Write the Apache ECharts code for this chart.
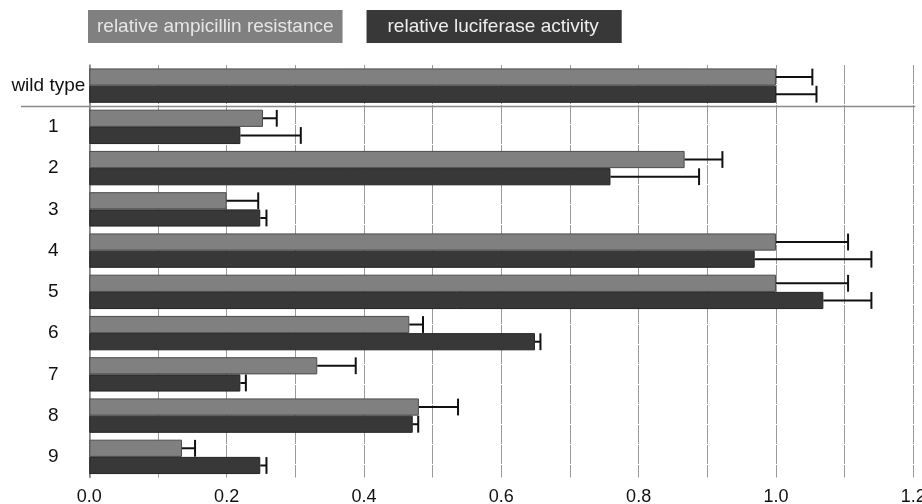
<!DOCTYPE html>
<html>
<head>
<meta charset="utf-8">
<script src="https://cdn.jsdelivr.net/npm/echarts@6/dist/echarts.min.js"></script>
<style>
  html, body { margin: 0; padding: 0; background: #ffffff; }
  #chart { width: 922px; height: 504px; }
</style>
</head>
<body>
<div id="chart"></div>
<script>
// Constructs, top to bottom
const categories = ['wild type', '1', '2', '3', '4', '5', '6', '7', '8', '9'];

// Relative ampicillin resistance and its (upper) error
const ampicillin    = [1.000, 0.253, 0.867, 0.200, 1.000, 1.000, 0.466, 0.332, 0.480, 0.135];
const ampicillinErr = [0.053, 0.020, 0.055, 0.046, 0.105, 0.105, 0.020, 0.056, 0.057, 0.019];

// Relative luciferase activity and its (upper) error
const luciferase    = [1.000, 0.220, 0.759, 0.249, 0.969, 1.069, 0.649, 0.220, 0.471, 0.249];
const luciferaseErr = [0.059, 0.088, 0.129, 0.009, 0.170, 0.070, 0.008, 0.008, 0.008, 0.009];

// Value axis tick labels
const tickLabels = ['0.0', '0.2', '0.4', '0.6', '0.8', '1.0', '1.2'];

const FONT = '"Liberation Sans", Arial, sans-serif';
const BAR_W = 17.2;
const GRAY = '#808080';
const DARK = '#383838';

const chart = echarts.init(document.getElementById('chart'), null, { renderer: 'canvas' });

// One-sided (upper) error bars, drawn through the axes
function errorSeries(name, values, errors, side) {
  return {
    type: 'custom',
    name: name + ' error',
    z: 5,
    silent: true,
    data: values.map((v, i) => [v, i, v + errors[i]]),
    encode: { x: [0, 2], y: 1 },
    renderItem: function (params, api) {
      const start = api.coord([api.value(0), api.value(1)]);
      const end = api.coord([api.value(2), api.value(1)]);
      const y = start[1] + side * BAR_W / 2;
      const half = 8.4;
      const style = { stroke: '#111111', lineWidth: 2 };
      return {
        type: 'group',
        children: [
          { type: 'line', shape: { x1: start[0], y1: y, x2: end[0], y2: y }, style: style },
          { type: 'line', shape: { x1: end[0], y1: y - half, x2: end[0], y2: y + half }, style: style }
        ]
      };
    }
  };
}

const option = {
  animation: false,
  backgroundColor: '#ffffff',
  textStyle: { fontFamily: FONT },
  legend: {
    top: 5,
    left: 77,
    itemGap: 18,
    itemWidth: 0,
    itemHeight: 0,
    selectedMode: false,
    data: [
      {
        name: 'relative ampicillin resistance',
        icon: 'rect',
        textStyle: {
          fontFamily: FONT, fontSize: 19, color: '#e6e6e6', lineHeight: 19,
          backgroundColor: GRAY, padding: [7, 9, 7, 9]
        }
      },
      {
        name: 'relative luciferase activity',
        icon: 'rect',
        textStyle: {
          fontFamily: FONT, fontSize: 19, color: '#eeeeee', lineHeight: 19,
          backgroundColor: DARK, padding: [7, 23, 7, 21]
        }
      }
    ]
  },
  grid: {
    left: 89.3, right: 8.7, top: 65, bottom: 26.5,
    containLabel: false,
    outerBoundsMode: 'none'
  },
  xAxis: {
    type: 'value',
    min: 0,
    max: 1.2,
    interval: 0.1,
    axisLine: { show: false },
    axisTick: { show: false },
    axisLabel: {
      margin: 11,
      fontFamily: FONT,
      fontSize: 18,
      color: '#111111',
      formatter: function (v) {
        const k = Math.round(v * 10);
        return k % 2 === 0 ? tickLabels[k / 2] : '';
      }
    },
    splitLine: {
      show: true,
      lineStyle: { color: '#9a9a9a', width: 1, type: [19, 1] }
    }
  },
  yAxis: {
    type: 'category',
    inverse: true,
    data: categories,
    axisLine: { show: true, lineStyle: { color: '#7a7a7a', width: 1.5 } },
    axisTick: { show: false },
    axisLabel: {
      margin: 4,
      fontFamily: FONT,
      fontSize: 19,
      color: '#111111',
      formatter: function (v) {
        return v === categories[0] ? '{w|' + v + '}' : '{n|' + v + '}';
      },
      rich: {
        w: { fontFamily: FONT, fontSize: 19, color: '#111111' },
        n: { fontFamily: FONT, fontSize: 19, color: '#111111', width: 64, align: 'center' }
      }
    }
  },
  series: [
    {
      name: 'relative ampicillin resistance',
      type: 'bar',
      data: ampicillin,
      barWidth: BAR_W,
      barGap: '0%',
      itemStyle: { color: GRAY, borderColor: '#4c4c4c', borderWidth: 1 }
    },
    {
      name: 'relative luciferase activity',
      type: 'bar',
      data: luciferase,
      barWidth: BAR_W,
      barGap: '0%',
      itemStyle: { color: DARK, borderColor: '#222222', borderWidth: 1 }
    },
    errorSeries('relative ampicillin resistance', ampicillin, ampicillinErr, -1),
    errorSeries('relative luciferase activity', luciferase, luciferaseErr, 1)
  ]
};

chart.setOption(option);

// Rule separating the wild type from the numbered constructs
const c0 = chart.convertToPixel({ yAxisIndex: 0 }, categories[0]);
const c1 = chart.convertToPixel({ yAxisIndex: 0 }, categories[1]);
const sepY = Math.round((c0 + c1) / 2) + 0.5;
const rightX = chart.convertToPixel({ xAxisIndex: 0 }, 1.2) + 2;
chart.setOption({
  graphic: [{
    type: 'line',
    z: 10,
    silent: true,
    shape: { x1: 21, y1: sepY, x2: rightX, y2: sepY },
    style: { stroke: '#8a8a8a', lineWidth: 1.5 }
  }]
});
</script>
</body>
</html>
